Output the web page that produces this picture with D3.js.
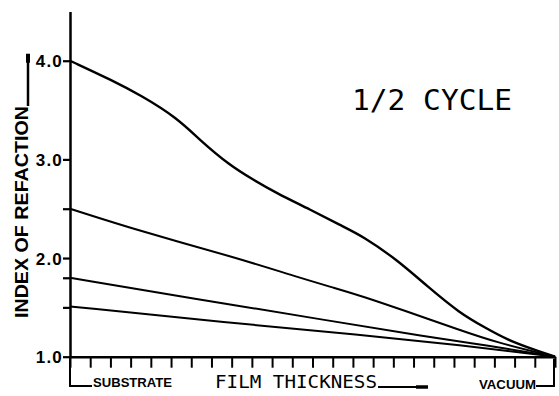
<!DOCTYPE html>
<html>
<head>
<meta charset="utf-8">
<script src="https://cdn.jsdelivr.net/npm/d3@7"></script>
<style>
  body { margin: 0; background: #fff; }
  svg { display: block; }
  .plot-font { font-family: "DejaVu Sans Mono", monospace; }
  .bold-font { font-family: "Liberation Sans", Arial, sans-serif; font-weight: bold; }
</style>
</head>
<body>
<svg id="chart"></svg>
<script>
// film thickness in tick steps, substrate (0) to vacuum (24)
// each profile keeps the thickness positions it was read at
const thicknessA = [0, 2.1, 3.5, 5.3, 6.4, 7.9, 9.1, 10.2, 11.9, 13.4, 14.5, 16.2, 17.7, 19.3, 20.5, 21.8, 24];
const profileA = [4.0, 3.80, 3.65, 3.42, 3.20, 2.94, 2.79, 2.66, 2.49, 2.33, 2.22, 1.98, 1.71, 1.44, 1.30, 1.15, 1.0];

const thicknessB = [0, 3.5, 8.3, 11.2, 13.2, 14.5, 16.5, 19.3, 21.0, 24];
const profileB = [2.5, 2.27, 2.0, 1.81, 1.69, 1.61, 1.47, 1.27, 1.15, 1.0];

const thicknessC = [0, 6.1, 12.7, 17.7, 20.5, 24];
const profileC = [1.8, 1.59, 1.37, 1.20, 1.12, 1.0];

const thicknessD = [0, 7.8, 14.4, 19.3, 24];
const profileD = [1.51, 1.345, 1.22, 1.12, 1.0];

const xTicks = d3.range(0, 25);
const yTicks = [1.0, 1.5, 1.8, 2.0, 2.5, 3.0, 4.0];
const yLabelled = [1.0, 2.0, 3.0, 4.0];

const width = 559, height = 396;

const svg = d3.select("#chart").attr("width", width).attr("height", height);

const x = d3.scaleLinear().domain([0, 24]).range([70, 555]);
const y = d3.scaleLinear().domain([1, 4.5]).range([356.7, 11.4]);

// axes
const xAxis = d3.axisBottom(x).tickValues(xTicks).tickSize(11).tickSizeOuter(0).tickFormat("");
const yAxis = d3.axisLeft(y).tickValues(yTicks).tickSize(7).tickSizeOuter(0)
  .tickFormat(d => yLabelled.includes(d) ? d3.format(".1f")(d) : "");

const xg = svg.append("g").attr("transform", `translate(0,${y(1)})`).call(xAxis);
xg.select(".domain").attr("stroke", "#000").attr("stroke-width", 2.5);
xg.selectAll(".tick line").attr("stroke", "#000").attr("stroke-width", 2);

const yg = svg.append("g").attr("transform", `translate(${x(0)},0)`).call(yAxis);
yg.select(".domain").attr("stroke", "#000").attr("stroke-width", 2.5);
yg.selectAll(".tick line").attr("stroke", "#000").attr("stroke-width", 2.2);
yg.selectAll(".tick text")
  .attr("class", "bold-font")
  .attr("font-size", 17)
  .attr("letter-spacing", 1.2)
  .attr("fill", "#000")
  .attr("x", -7)
  .attr("dy", "0.36em");

// curves, smoothed like the plotter trace
const series = [
  { xs: thicknessA, ys: profileA, w: 2.4 },
  { xs: thicknessB, ys: profileB, w: 2 },
  { xs: thicknessC, ys: profileC, w: 2 },
  { xs: thicknessD, ys: profileD, w: 2 },
];

const line = d3.line()
  .x(d => x(d[0]))
  .y(d => y(d[1]))
  .curve(d3.curveBasis);

svg.append("g")
  .selectAll("path")
  .data(series)
  .join("path")
  .attr("d", s => line(s.xs.map((t, i) => [t, s.ys[i]])))
  .attr("fill", "none")
  .attr("stroke", "#000")
  .attr("stroke-width", s => s.w);

// brackets below the thickness axis
const bracket = svg.append("g").attr("fill", "none").attr("stroke", "#000").attr("stroke-width", 2);
bracket.append("path").attr("d", `M${x(0)},${y(1)} V386 H92`);
bracket.append("path").attr("d", `M536,386 H${x(24) - 1} V${y(1) + 2}`);
bracket.append("path").attr("d", "M378,387 H428");
bracket.append("path").attr("d", "M416,387 H428").attr("stroke-width", 3.5);

svg.append("text").attr("class", "bold-font")
  .attr("x", 93).attr("y", 387).attr("font-size", 12.5)
  .attr("textLength", 79).attr("lengthAdjust", "spacingAndGlyphs")
  .text("SUBSTRATE");

svg.append("text").attr("class", "plot-font")
  .attr("x", 215).attr("y", 388).attr("font-size", 18)
  .attr("textLength", 162).attr("lengthAdjust", "spacingAndGlyphs")
  .text("FILM THICKNESS");

svg.append("text").attr("class", "bold-font")
  .attr("x", 479).attr("y", 389).attr("font-size", 12.5)
  .attr("textLength", 57).attr("lengthAdjust", "spacingAndGlyphs")
  .text("VACUUM");

// vertical axis title with its leader line
svg.append("text").attr("class", "bold-font")
  .attr("transform", "translate(28,318) rotate(-90)")
  .attr("font-size", 18)
  .attr("textLength", 212).attr("lengthAdjust", "spacingAndGlyphs")
  .text("INDEX OF REFACTION");

svg.append("path").attr("d", `M28,106 V${y(4) - 6}`)
  .attr("stroke", "#000").attr("stroke-width", 2.5).attr("fill", "none");
svg.append("path").attr("d", `M28,${y(4) + 2} V${y(4) - 7}`)
  .attr("stroke", "#000").attr("stroke-width", 4).attr("fill", "none");

// title
svg.append("text").attr("class", "plot-font")
  .attr("x", 352).attr("y", 110).attr("font-size", 28)
  .attr("textLength", 160).attr("lengthAdjust", "spacingAndGlyphs")
  .text("1/2 CYCLE");
</script>
</body>
</html>
